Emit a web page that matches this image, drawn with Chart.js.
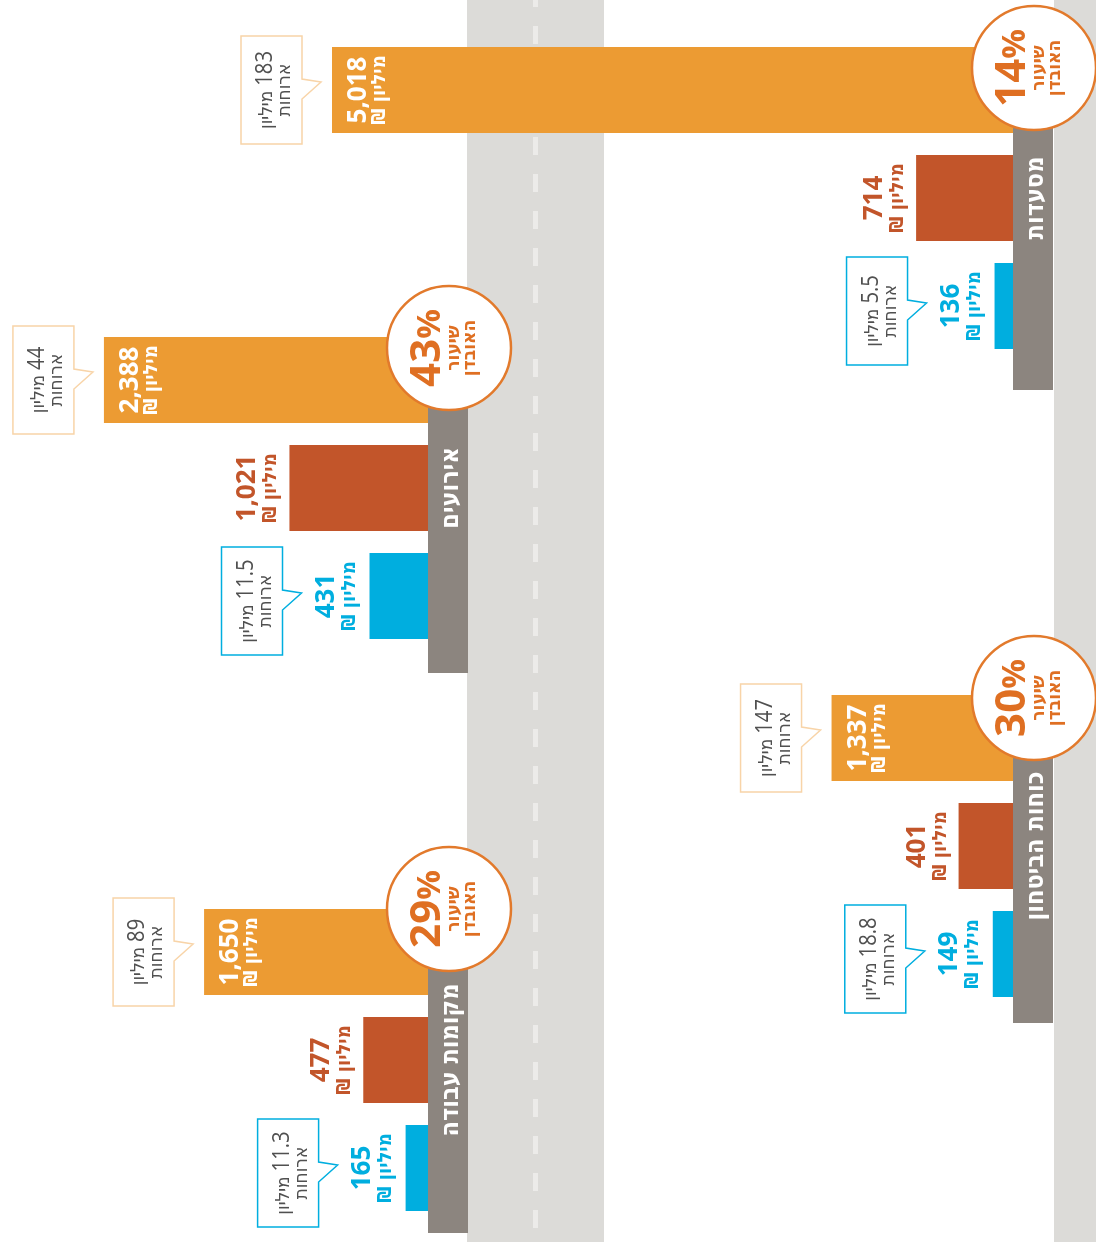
<!DOCTYPE html>
<html lang="he">
<head>
<meta charset="utf-8">
<script src="https://cdn.jsdelivr.net/npm/chart.js@4.4.1/dist/chart.umd.min.js"></script>
<style>
  body { margin: 0; background: #fff; overflow: hidden; }
  #page { position: relative; width: 1096px; height: 1242px; overflow: hidden; }
  #road { position: absolute; left: 467px; top: 0; width: 137px; height: 1242px; background: #dcdbd8; }
  #dash { position: absolute; left: 533px; top: -11px; width: 5px; height: 1270px;
          background: repeating-linear-gradient(to bottom, #ecebe9 0 18px, transparent 18px 37px); }
  #edge { position: absolute; left: 1054px; top: 0; width: 42px; height: 1242px; background: #dcdbd8; }
  canvas { position: absolute; left: 0; top: 0; }
</style>
</head>
<body>
<div id="page">
  <div id="road"></div>
  <div id="dash"></div>
  <div id="edge"></div>
  <canvas id="g0" width="1096" height="1242"></canvas>
  <canvas id="g1" width="1096" height="1242"></canvas>
  <canvas id="g2" width="1096" height="1242"></canvas>
  <canvas id="g3" width="1096" height="1242"></canvas>
</div>
<script>
// data
const groups = ['מסעדות', 'אירועים', 'כוחות הביטחון', 'מקומות עבודה'];
const seriesNames = ['שווי המזון', 'אובדן', 'הצלה'];
const totalValue = [5018, 2388, 1337, 1650];   // מיליון ₪
const lostValue = [714, 1021, 401, 477];
const savedValue = [136, 431, 149, 165];
const lossRate = [14, 43, 30, 29];             // %
const totalMeals = [183, 44, 147, 89];         // מיליון ארוחות
const savedMeals = [5.5, 11.5, 18.8, 11.3];

// layout
const W = 1096, H = 1242;
const groupBase = [1013, 428, 1013, 428];
const groupMid = [198, 488, 846, 1060];
const circleY = [68, 348, 698, 909];
const stripEnd = [390, 673, 1023, 1233];
const PITCH = 108, BAR = 86;
const PX_PER_UNIT = 681 / 5018;

const ORANGE = '#ec9b33', RED = '#c2552a', BLUE = '#00aedf';
const STRIP = '#8c857f', RING = '#e27a2c', RING_TEXT = '#df6f22';
const PALE = '#f8d4a8', GREY_TEXT = '#505050';

const FONT_NUM = '"Open Sans", "DejaVu Sans", sans-serif';
const FONT_HEB = '"DejaVu Sans Condensed", "DejaVu Sans", sans-serif';

const fmt = v => v.toLocaleString('en-US');

function rotated(ctx, x, y, fn) {
  ctx.save();
  ctx.translate(x, y);
  ctx.rotate(-Math.PI / 2);
  fn();
  ctx.restore();
}

function barLabel(ctx, numX, unitX, cy, color, value) {
  ctx.fillStyle = color;
  ctx.textAlign = 'center';
  ctx.textBaseline = 'alphabetic';
  rotated(ctx, numX, cy, () => {
    ctx.direction = 'ltr';
    ctx.font = 'bold 26px ' + FONT_NUM;
    ctx.fillText(fmt(value), 0, 0);
  });
  rotated(ctx, unitX, cy, () => {
    ctx.direction = 'rtl';
    ctx.font = 'bold 20px ' + FONT_HEB;
    ctx.fillText('מיליון ₪', 0, 0);
  });
}

function callout(ctx, right, cy, border, meals) {
  const w = 61, h = 108, left = right - w, top = cy - h / 2;
  ctx.beginPath();
  ctx.moveTo(left, top);
  ctx.lineTo(right, top);
  ctx.lineTo(right, cy - 11);
  ctx.lineTo(right + 19, cy - 8);
  ctx.lineTo(right, cy + 9);
  ctx.lineTo(right, top + h);
  ctx.lineTo(left, top + h);
  ctx.closePath();
  ctx.fillStyle = '#fff';
  ctx.fill();
  ctx.strokeStyle = border;
  ctx.lineWidth = 1.5;
  ctx.stroke();

  ctx.fillStyle = GREY_TEXT;
  ctx.textBaseline = 'alphabetic';
  const squeeze = 0.88;
  rotated(ctx, right - 30, cy, () => {
    const num = String(meals);
    ctx.font = '23px ' + FONT_NUM;
    const wn = ctx.measureText(num).width * squeeze;
    ctx.font = '19px ' + FONT_HEB;
    const wu = ctx.measureText('מיליון').width;
    const total = wn + 5 + wu;
    ctx.direction = 'rtl';
    ctx.textAlign = 'left';
    ctx.fillText('מיליון', -total / 2, 0);
    ctx.save();
    ctx.translate(total / 2, 0);
    ctx.scale(squeeze, 1);
    ctx.direction = 'ltr';
    ctx.textAlign = 'right';
    ctx.font = '23px ' + FONT_NUM;
    ctx.fillText(num, 0, 0);
    ctx.restore();
  });
  rotated(ctx, right - 12, cy, () => {
    ctx.direction = 'rtl';
    ctx.textAlign = 'center';
    ctx.font = '19px ' + FONT_HEB;
    ctx.fillText('ארוחות', 0, 0);
  });
}

function ring(ctx, cx, cy, rate) {
  ctx.beginPath();
  ctx.arc(cx, cy, 62, 0, Math.PI * 2);
  ctx.fillStyle = '#fff';
  ctx.fill();
  ctx.strokeStyle = RING;
  ctx.lineWidth = 2.5;
  ctx.stroke();

  ctx.fillStyle = RING_TEXT;
  ctx.textBaseline = 'alphabetic';
  rotated(ctx, cx, cy, () => {
    ctx.direction = 'ltr';
    ctx.font = 'bold 42px ' + FONT_NUM;
    const num = String(rate);
    const wn = ctx.measureText(num).width;
    ctx.font = 'bold 33px ' + FONT_NUM;
    const wp = ctx.measureText('%').width;
    const start = -(wn + wp) / 2;
    ctx.textAlign = 'left';
    ctx.font = 'bold 42px ' + FONT_NUM;
    ctx.fillText(num, start, -9);
    ctx.font = 'bold 33px ' + FONT_NUM;
    ctx.fillText('%', start + wn, -9);

    ctx.direction = 'rtl';
    ctx.textAlign = 'center';
    ctx.font = 'bold 19px ' + FONT_HEB;
    ctx.fillText('שיעור', 0, 10);
    ctx.fillText('האובדן', 0, 26);
  });
}

function makeGroup(i) {
  const base = groupBase[i];
  const top = groupMid[i] - 1.5 * PITCH;

  const decor = {
    id: 'decor' + i,
    beforeDatasetsDraw(chart) {
      const ctx = chart.ctx;
      const x0 = chart.scales.x.getPixelForValue(0);
      ctx.save();
      ctx.fillStyle = STRIP;
      ctx.fillRect(x0, circleY[i], 40, stripEnd[i] - circleY[i]);
      ctx.fillStyle = '#fff';
      ctx.textBaseline = 'alphabetic';
      rotated(ctx, x0 + 20, groupMid[i], () => {
        ctx.direction = 'rtl';
        ctx.textAlign = 'center';
        ctx.font = 'bold 25px ' + FONT_HEB;
        ctx.fillText(groups[i], 0, 10);
      });
      ctx.restore();
    },
    afterDatasetsDraw(chart) {
      const ctx = chart.ctx;
      const bars = chart.getDatasetMeta(0).data;
      const x0 = chart.scales.x.getPixelForValue(0);
      const vals = chart.data.datasets[0].data;
      ctx.save();
      barLabel(ctx, bars[0].x + 34, bars[0].x + 53, bars[0].y, '#fff', vals[0]);
      barLabel(ctx, bars[1].x - 34, bars[1].x - 13, bars[1].y, RED, vals[1]);
      barLabel(ctx, bars[2].x - 36, bars[2].x - 15, bars[2].y, BLUE, vals[2]);
      callout(ctx, bars[0].x - 30, bars[0].y, PALE, totalMeals[i]);
      callout(ctx, bars[2].x - 87, bars[2].y + 5, BLUE, savedMeals[i]);
      ring(ctx, x0 + 21, circleY[i], lossRate[i]);
      ctx.restore();
    }
  };

  return new Chart(document.getElementById('g' + i), {
    type: 'bar',
    data: {
      labels: seriesNames,
      datasets: [{
        label: groups[i],
        data: [totalValue[i], lostValue[i], savedValue[i]],
        backgroundColor: [ORANGE, RED, BLUE],
        borderWidth: 0,
        categoryPercentage: 1,
        barPercentage: BAR / PITCH
      }]
    },
    options: {
      indexAxis: 'y',
      responsive: false,
      animation: false,
      layout: {
        padding: { left: 0, right: W - base, top: top, bottom: H - top - 3 * PITCH }
      },
      plugins: { legend: { display: false }, tooltip: { enabled: false } },
      scales: {
        x: { type: 'linear', min: 0, max: base / PX_PER_UNIT, reverse: true, display: false },
        y: { display: false }
      }
    },
    plugins: [decor]
  });
}

groups.forEach((g, i) => makeGroup(i));
</script>
</body>
</html>
